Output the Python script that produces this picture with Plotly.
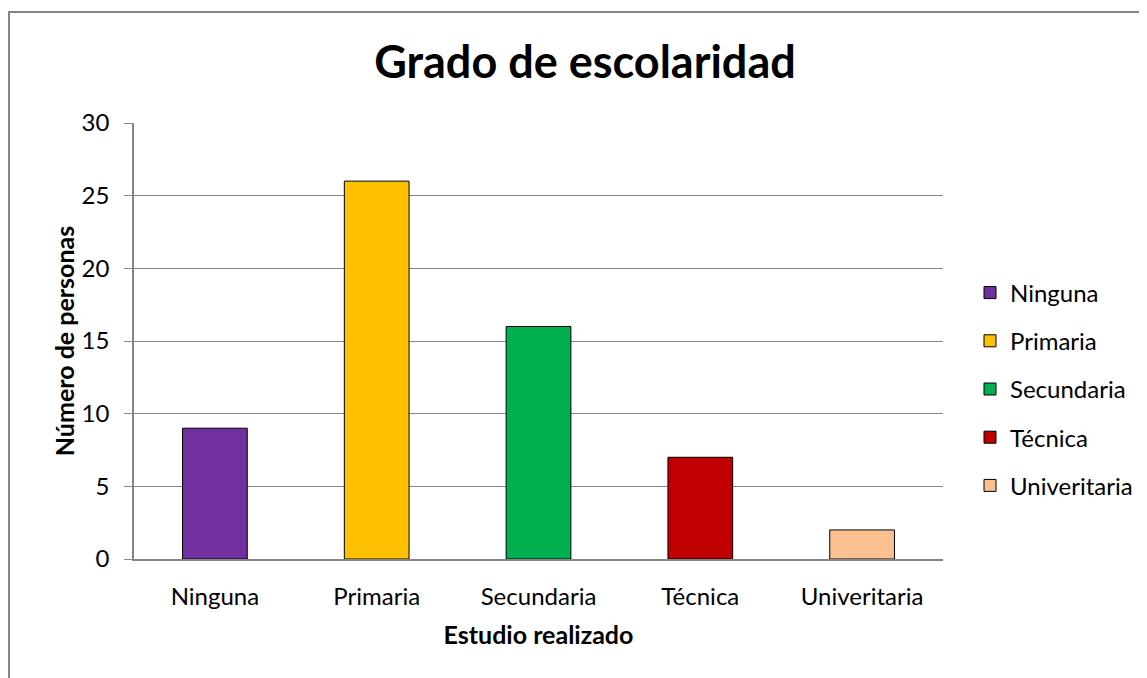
import plotly.graph_objects as go

categorias = ["Ninguna", "Primaria", "Secundaria", "Técnica", "Univeritaria"]
valores = [9, 26, 16, 7, 2]
colores = ["#7030A0", "#FFC000", "#00B050", "#C00000", "#FAC090"]

FONT = "Lato, 'Open Sans', sans-serif"

fig = go.Figure()
for cat, val, col in zip(categorias, valores, colores):
    fig.add_trace(go.Bar(
        x=[cat], y=[val], name=cat, width=0.4, legendgroup=cat,
        marker=dict(color=col, line=dict(color="#000000", width=1)),
    ))

# page has 8px body margin: figure coords = screen coords - 8
OFF = 8
W, H = 1180, 670
L, T = 134 - OFF, 123 - OFF
R = W - (943 - OFF)
B = H - (559 - OFF)
pw, ph = W - L - R, H - T - B

def px(xs):
    return (xs - OFF - L) / pw

def py(ys):
    return (H - B - (ys - OFF)) / ph

fig.update_layout(
    width=W, height=H,
    margin=dict(l=L, r=R, t=T, b=B),
    barmode="overlay",
    paper_bgcolor="white", plot_bgcolor="white",
    font=dict(family=FONT, color="#000000"),
    title=dict(text="<b>Grado de escolaridad</b>", x=(585 - OFF) / W, xanchor="center",
               y=1 - (62 - OFF) / H, yanchor="middle", font=dict(size=45, color="#000000")),
    legend=dict(x=px(970), xanchor="left", y=py(389), yanchor="middle",
                font=dict(size=24, color="#000000"), tracegroupgap=14, itemwidth=30,
                bgcolor="rgba(0,0,0,0)"),
    xaxis=dict(
        categoryorder="array", categoryarray=categorias,
        showline=True, linecolor="#868686", linewidth=1.5,
        showgrid=False, ticks="", tickfont=dict(size=24, color="#000000"),
        ticklabelstandoff=15,
        title=dict(text="<b>Estudio realizado</b>", font=dict(size=25, color="#000000"), standoff=18),
    ),
    yaxis=dict(
        range=[0, 30], dtick=5, showline=True, linecolor="#868686", linewidth=1.5,
        showgrid=True, gridcolor="#868686", gridwidth=1,
        ticks="outside", ticklen=8, tickcolor="#868686",
        tickfont=dict(size=24, color="#000000"), ticklabelstandoff=10,
        title=dict(text="<b>Número de personas</b>", font=dict(size=25, color="#000000"), standoff=0),
        zeroline=False,
    ),
    shapes=[dict(type="rect", xref="paper", yref="paper",
                 x0=px(9), x1=px(1300),
                 y0=py(720), y1=py(12),
                 line=dict(color="#868686", width=2), fillcolor="rgba(0,0,0,0)", layer="below")],
)

fig.write_html("out.html")
